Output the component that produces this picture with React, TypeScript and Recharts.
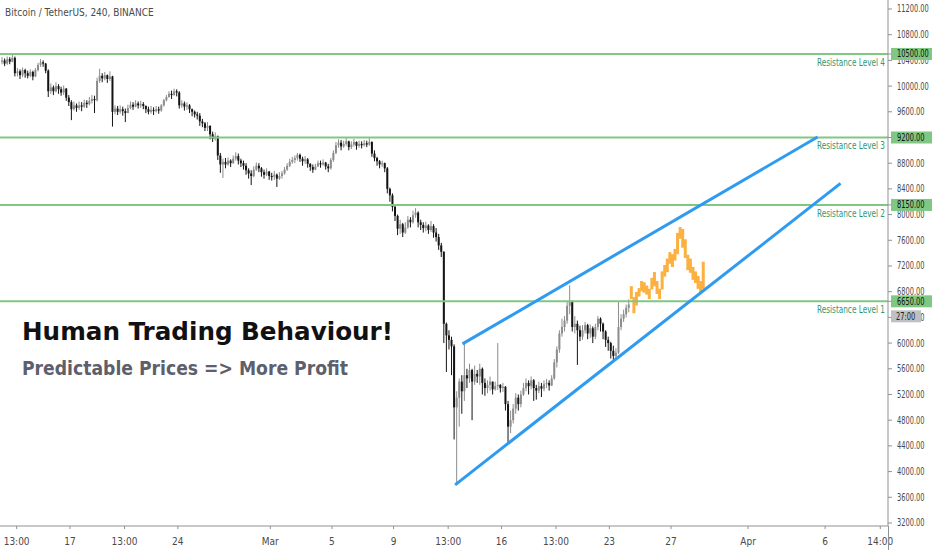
import React from 'react';
import { ComposedChart, Bar, XAxis, YAxis, ReferenceLine } from 'recharts';

const W = 932;
const H = 550;
const AXIS_FONT = "'DejaVu Sans Condensed', 'Liberation Sans', sans-serif";
const TITLE_FONT = "'DejaVu Sans', 'Open Sans', sans-serif";
const GREEN = '#81c784';
const LEVEL_TEXT = '#2f9873';
const BLUE = '#2f9bf0';
const PROJ = '#fbb040';
const UP = '#8c8c8c';
const DOWN = '#141414';
const AXIS = '#8f9196';
const TEXT = '#4a4a4a';
const PRICE_SQUEEZE = 0.74; // the price scale uses a narrow face

// x values are days counted from Feb 1 (Feb 17 = 16, Mar 1 = 29 ...), one candle every 4h
const firstDay = 11.6;
const candleStep = 1 / 6;

const closes = [
  10400, 10350, 10420, 10380, 10440, 10200,
  10230, 10170, 10250, 10200, 10160, 10220,
  10150, 10250, 10330, 10370, 10350,
  10240, 9920,
  9980, 9920, 10000, 9950, 9900, 9960,
  9820, 9750, 9640, 9700,
  9660, 9700, 9680, 9740, 9720, 9770, 9800, 9780,
  10080, 10160, 10120, 10170, 10110, 10150,
  9600,
  9650, 9600, 9640, 9610, 9580, 9660,
  9710, 9680, 9730, 9700, 9720, 9690,
  9640, 9600, 9630, 9610, 9640, 9620,
  9700, 9780, 9830,
  9880, 9860, 9920, 9900,
  9700,
  9730, 9680, 9700, 9640,
  9600, 9560, 9540, 9450,
  9420, 9350, 9380,
  9250, 9180, 9220,
  8920, 8780,
  8820, 8780, 8840, 8800, 8870,
  8910, 8840,
  8800, 8760, 8690,
  8640, 8600, 8700,
  8760, 8720,
  8660, 8620, 8670, 8600,
  8590, 8620, 8560, 8600,
  8640, 8700, 8760, 8820, 8850,
  8880, 8930,
  8870, 8830, 8860, 8790,
  8740, 8700, 8750,
  8800, 8780, 8810,
  8750, 8720,
  8850, 8960, 9080,
  9120, 9060, 9100, 9140, 9050, 9090, 9130, 9070,
  9100, 9080, 9110, 9090, 9130,
  8950, 8880,
  8830, 8780, 8800,
  8720, 8400,
  8300,
  8120, 7980,
  7780, 7850, 7720, 7800,
  7920, 7880, 7990, 8030,
  7880, 7840, 7790, 7830, 7760, 7820,
  7720, 7650,
  7520, 7420,
  6300, 6120, 6050, 5950, 5000, 5150, 5400, 5250, 5500,
  5450, 5580, 5400, 5520, 5480, 5600, 5380, 5300, 5350, 5400,
  5280, 5330, 5350, 5300, 5320,
  5050, 4700, 4800, 4980,
  5150, 5050, 5200,
  5300, 5380, 5330, 5420, 5300,
  5260, 5330, 5290, 5360,
  5380, 5340, 5450,
  5700, 5900, 6150,
  6250, 6350,
  6580, 6640,
  6250, 6300,
  6200, 6100,
  6200, 6280, 6150, 6230, 6100, 6250,
  6380,
  6300, 6180, 6050, 6000,
  5880, 5800, 5850,
  6250,
  6380, 6450, 6550,
  6600,
];

const highs = [
  10450, 10430, 10460, 10450, 10510, 10460,
  10280, 10260, 10290, 10270, 10240, 10260,
  10240, 10280, 10360, 10420, 10400,
  10360, 10260,
  10040, 10010, 10060, 10030, 9990, 10010,
  9970, 9860, 9780, 9760,
  9730, 9760, 9750, 9790, 9780, 9830, 9860, 9850,
  10130, 10270, 10200, 10220, 10180, 10230,
  10160,
  9700, 9690, 9700, 9680, 9650, 9710,
  9760, 9750, 9780, 9760, 9770, 9750,
  9700, 9680, 9690, 9670, 9690, 9680,
  9720, 9800, 9860,
  9920, 9930, 9960, 9950,
  9920,
  9780, 9760, 9750, 9720,
  9650, 9620, 9600, 9580,
  9490, 9440, 9440,
  9390, 9290, 9280,
  9230, 8960,
  8870, 8880, 8890, 8860, 8920,
  8970, 8950,
  8870, 8840, 8800,
  8720, 8690, 8750,
  8810, 8800,
  8740, 8700, 8720, 8680,
  8650, 8680, 8640, 8660,
  8680, 8740, 8800, 8870, 8900,
  8920, 8960,
  8950, 8900, 8910, 8880,
  8800, 8780, 8790,
  8840, 8840, 8860,
  8820, 8790,
  8880, 9000, 9130,
  9170, 9160, 9150, 9190, 9150, 9140, 9180, 9140,
  9150, 9140, 9160, 9150, 9190,
  9140, 9000,
  8900, 8850, 8840,
  8810, 8740,
  8420,
  8330, 8150,
  8000, 7920, 7870, 7880,
  7980, 7960, 8060, 8100,
  8050, 7920, 7880, 7890, 7850, 7900,
  7850, 7790,
  7700, 7560,
  7430, 6320, 6200, 6100, 5980, 5250, 5450, 5500, 6000,
  5600, 5680, 5600, 5650, 5580, 5680, 5620, 5450, 5420, 5480,
  5380, 5400, 6000, 5360, 5380,
  5330, 5100, 4950, 5050,
  5220, 5200, 5260,
  5380, 5450, 5420, 5480, 5440,
  5350, 5400, 5380, 5420,
  5440, 5420, 5500,
  5750, 5950, 6200,
  6380, 6420,
  6650, 6900,
  6660, 6420,
  6350, 6270,
  6280, 6330, 6300, 6290, 6260, 6300,
  6420,
  6400, 6320, 6200, 6100,
  6020, 5960, 5920,
  6650,
  6450, 6520, 6600,
  6680,
];

const lows = [
  10340, 10310, 10330, 10340, 10370, 10150,
  10150, 10110, 10140, 10130, 10120, 10140,
  10090, 10140, 10230, 10300, 10300,
  10200, 9830,
  9880, 9860, 9900, 9880, 9850, 9860,
  9770, 9690, 9470, 9620,
  9600, 9630, 9610, 9660, 9660, 9700, 9730, 9580,
  9760, 10050, 10060, 10090, 10050, 10080,
  9370,
  9560, 9550, 9570, 9540, 9440, 9600,
  9640, 9630, 9670, 9650, 9660, 9640,
  9580, 9560, 9570, 9550, 9590, 9570,
  9600, 9680, 9760,
  9820, 9800, 9850, 9840,
  9650,
  9660, 9620, 9630, 9580,
  9530, 9510, 9480, 9380,
  9360, 9300, 9300,
  9170, 9130, 9150,
  8850, 8650,
  8570, 8720, 8760, 8740, 8790,
  8840, 8780,
  8740, 8700, 8620,
  8560, 8460, 8580,
  8680, 8660,
  8590, 8560, 8600, 8540,
  8530, 8540, 8430, 8540,
  8560, 8620, 8680, 8740, 8790,
  8800, 8840,
  8820, 8760, 8790, 8730,
  8680, 8650, 8690,
  8740, 8730, 8760,
  8700, 8660,
  8700, 8820, 8940,
  9040, 9000, 9040, 9070, 9000, 9020, 9060, 9010,
  9040, 9030, 9060, 9050, 9070,
  8900, 8830,
  8760, 8720, 8740,
  8660, 8330,
  8200,
  8050, 7900,
  7680, 7700, 7650, 7700,
  7780, 7800, 7860, 7950,
  7800, 7760, 7720, 7740, 7700, 7730,
  7640, 7580,
  7450, 7340,
  6000, 5550, 5900, 5500, 4500, 3790, 4700, 4900, 5100,
  5300, 5380, 4800, 5350, 5380, 5350, 5200, 5180, 5220, 5260,
  5200, 5260, 5270, 5230, 5240,
  4950, 4450, 4600, 4750,
  4900, 4950, 5000,
  5180, 5250, 5200, 5280, 5100,
  5120, 5220, 5160, 5250,
  5300, 5260, 5330,
  5430, 5620, 5850,
  6100, 6180,
  6300, 6450,
  6180, 6150,
  5660, 6030,
  6050, 6150, 6060, 6080, 6000, 6060,
  6200,
  6180, 6060, 5940, 5880,
  5760, 5700, 5740,
  5830,
  6200, 6330, 6400,
  6480,
];

// orange projected bars pattern (high / low per 4h slot), continues right after the last candle
const projHighs = [
  6870, 6700, 6780, 6840, 6950, 6930, 6880, 6830, 7000, 7090,
  6950, 6830, 7100, 7200, 7300, 7400, 7370, 7450, 7700, 7790,
  7760, 7600, 7360, 7300, 7170, 7100, 7030, 6950, 7250,
];
const projLows = [
  6700, 6480, 6600, 6740, 6820, 6800, 6770, 6700, 6850, 6900,
  6780, 6700, 6850, 7050, 7120, 7250, 7200, 7300, 7400, 7640,
  7500, 7340, 7150, 7110, 7000, 6950, 6860, 6800, 6860,
];

const levels = [10500, 9200, 8150, 6650];
const levelNames = ['Resistance Level 4', 'Resistance Level 3', 'Resistance Level 2', 'Resistance Level 1'];
const countdown = '27:00';

const upperChannel = [{ x: 41.47, y: 5987 }, { x: 64.51, y: 9208 }];
const lowerChannel = [{ x: 40.99, y: 3793 }, { x: 66.0, y: 8485 }];

const xDomain = [11.46, 69.08];
const xTicks = [12.54, 16, 19.54, 23, 29, 33, 37, 40.54, 44, 47.54, 51, 55, 60, 65, 68.58];
const xLabels = ['13:00', '17', '13:00', '24', 'Mar', '5', '9', '13:00', '16', '13:00', '23', '27', 'Apr', '6', '14:00'];

const yDomain = [3153, 11340];
const yTicks = [3200, 3600, 4000, 4400, 4800, 5200, 5600, 6000, 6400, 6800, 7200, 7600, 8000, 8400, 8800, 9200, 9600, 10000, 10400, 10800, 11200];

// level tags go last so they are painted over the ordinary price labels
const axisTicks = [...yTicks.filter((t) => !levels.includes(t)), ...levels];

type Row = { d: number; o: number; h: number; l: number; c: number; proj: boolean };

const rows: Row[] = [];
closes.forEach((c, i) => {
  const o = i === 0 ? 10380 : closes[i - 1];
  rows.push({
    d: firstDay + i * candleStep,
    o,
    c,
    h: Math.max(highs[i], o, c),
    l: Math.min(lows[i], o, c),
    proj: false,
  });
});
projHighs.forEach((h, j) => {
  rows.push({ d: firstDay + (closes.length + j) * candleStep, o: h, c: h, h, l: projLows[j], proj: true });
});

function Candle(props: any) {
  const { x, y, width, height, payload } = props;
  if (x == null || y == null || !payload) return null;
  const cx = x + width / 2;
  const span = payload.h - payload.l;
  const k = span > 0 ? Math.abs(height) / span : 0;
  const py = (v: number) => y + (payload.h - v) * k;
  if (payload.proj) {
    return <rect x={cx - 1.5} y={y - 1} width={3} height={Math.abs(height) + 2} fill={PROJ} />;
  }
  const col = payload.c >= payload.o ? UP : DOWN;
  const top = py(Math.max(payload.o, payload.c));
  const bot = py(Math.min(payload.o, payload.c));
  return (
    <g>
      <line x1={cx} x2={cx} y1={y} y2={y + Math.abs(height)} stroke={col} strokeWidth={1} />
      <rect x={cx - 1} y={top} width={2} height={Math.max(bot - top, 1)} fill={col} />
    </g>
  );
}

function LevelLabel(props: any) {
  const { viewBox, name } = props;
  if (!viewBox) return null;
  const right = viewBox.x + viewBox.width;
  return (
    <text
      x={right - 3}
      y={viewBox.y + 12}
      textAnchor="end"
      fontSize={10}
      fill={LEVEL_TEXT}
      fontFamily={AXIS_FONT}
      textLength={68}
      lengthAdjust="spacingAndGlyphs"
    >
      {name}
    </text>
  );
}

function Narrow({ x, y, color, children }: { x: number; y: number; color: string; children: string }) {
  return (
    <g transform={`translate(${x},${y}) scale(${PRICE_SQUEEZE},1)`}>
      <text x={0} y={0} fontSize={10} fill={color} fontFamily={AXIS_FONT}>
        {children}
      </text>
    </g>
  );
}

function PriceTick(props: any) {
  const { x, y, payload } = props;
  const v: number = payload.value;
  const label = v.toFixed(2);
  const li = levels.indexOf(v);
  if (li < 0) return <Narrow x={x} y={y + 3.5} color={TEXT}>{label}</Narrow>;
  return (
    <g>
      <rect x={x - 6} y={y - 6} width={48} height={12} fill={GREEN} />
      <Narrow x={x} y={y + 3.5} color="#111">{label}</Narrow>
      {li === 3 ? (
        <g>
          <rect x={x - 6} y={y + 9} width={30} height={12} fill="#bfc0c4" />
          <Narrow x={x - 1} y={y + 18.5} color="#222">{countdown}</Narrow>
        </g>
      ) : null}
    </g>
  );
}

export default function App() {
  return (
    <div style={{ position: 'absolute', left: 0, top: 0, width: W, height: H, background: '#fff', overflow: 'hidden' }}>
      <ComposedChart width={W} height={H} data={rows} margin={{ top: 0, right: 0, bottom: 0, left: 0 }}>
        <XAxis
          dataKey="d"
          type="number"
          domain={xDomain}
          allowDataOverflow
          ticks={xTicks}
          interval={0}
          tickFormatter={(v: number) => xLabels[xTicks.indexOf(v)] ?? ''}
          height={24}
          tickSize={3}
          tickMargin={9}
          stroke={AXIS}
          tick={{ fontSize: 10, fill: TEXT, fontFamily: AXIS_FONT }}
        />
        <YAxis
          orientation="right"
          type="number"
          domain={yDomain}
          allowDataOverflow
          ticks={axisTicks}
          interval={0}
          width={44}
          tickSize={4}
          tickMargin={5}
          stroke={AXIS}
          tick={(p: any) => <PriceTick {...p} />}
        />
        <Bar dataKey={(r: Row) => [r.l, r.h]} barSize={3} shape={(p: any) => <Candle {...p} />} isAnimationActive={false} />
        {levels.map((lv, i) => (
          <ReferenceLine key={lv} y={lv} stroke={GREEN} strokeWidth={2} label={<LevelLabel name={levelNames[i]} />} />
        ))}
        <ReferenceLine segment={upperChannel} stroke={BLUE} strokeWidth={3} />
        <ReferenceLine segment={lowerChannel} stroke={BLUE} strokeWidth={3} />
      </ComposedChart>
      <div style={{ position: 'absolute', left: 888, top: 526, width: 1, height: 24, background: AXIS }} />
      <svg width={W} height={H} style={{ position: 'absolute', left: 0, top: 0, pointerEvents: 'none' }}>
        <text x={5} y={16} fontSize={10} fill={TEXT} fontFamily={AXIS_FONT}>
          Bitcoin / TetherUS, 240, BINANCE
        </text>
        <text x={22} y={340} fontSize={24.5} fontWeight={700} fill="#111" fontFamily={TITLE_FONT} textLength={371} lengthAdjust="spacingAndGlyphs">
          Human Trading Behaviour!
        </text>
        <text x={22} y={375} fontSize={19.5} fontWeight={700} fill="#5d606b" fontFamily={TITLE_FONT} textLength={326} lengthAdjust="spacingAndGlyphs">
          Predictable Prices =&gt; More Profit
        </text>
      </svg>
    </div>
  );
}
